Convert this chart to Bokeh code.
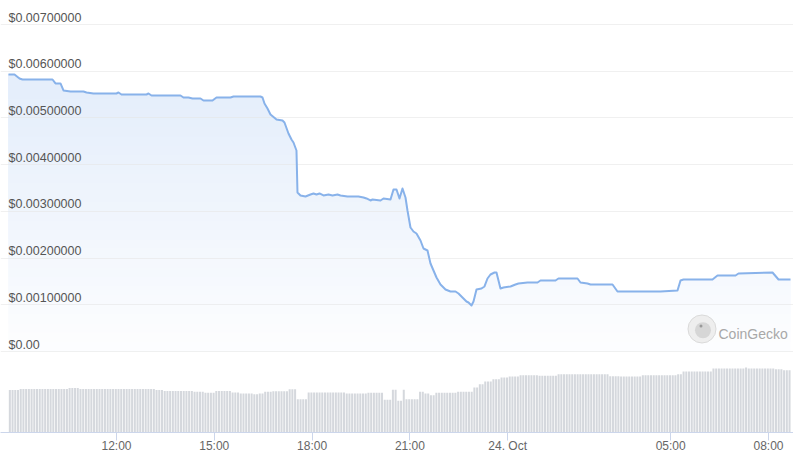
import numpy as np
from bokeh.plotting import figure
from bokeh.models import Range1d, FixedTicker, Grid
from bokeh.core.properties import value
from bokeh.embed import file_html
from bokeh.resources import INLINE

# ---------------- data ----------------
# time in hours since 23 Oct 00:00 (24 = 24 Oct 00:00)
price_hours = [8.687, 8.871, 9.025, 9.117, 10.037, 10.129, 10.282, 10.374, 10.589, 10.988,
               11.080, 11.294, 12.000, 12.061, 12.153, 12.920, 12.982, 13.074, 13.963, 14.055,
               14.209, 14.331, 14.577, 14.669, 14.945, 15.067, 15.497, 15.589, 16.417, 16.479,
               16.540, 16.632, 16.724, 16.908, 17.092, 17.153, 17.276, 17.368, 17.429, 17.521,
               17.552, 17.644, 17.798, 17.951, 18.043, 18.135, 18.227, 18.350, 18.503, 18.626,
               18.779, 18.871, 19.086, 19.423, 19.577, 19.669, 19.791, 19.853, 20.098, 20.190,
               20.405, 20.497, 20.589, 20.681, 20.773, 20.865, 20.926, 21.018, 21.110, 21.202,
               21.325, 21.417, 21.540, 21.632, 21.724, 21.816, 21.939, 22.092, 22.245, 22.399,
               22.491, 22.613, 22.736, 22.798, 22.890, 22.951, 23.043, 23.196, 23.288, 23.380,
               23.472, 23.595, 23.656, 23.779, 23.871, 24.086, 24.239, 24.331, 24.607, 24.914,
               25.006, 25.466, 25.558, 26.141, 26.233, 26.448, 26.540, 27.215, 27.368, 28.074,
               28.687, 29.209, 29.301, 29.393, 30.282, 30.436, 30.988, 31.080, 32.123, 32.307,
               32.675]
price_usd = [0.005930, 0.005930, 0.005845, 0.005823, 0.005823, 0.005738, 0.005738, 0.005588, 0.005566, 0.005566,
             0.005545, 0.005523, 0.005523, 0.005545, 0.005502, 0.005502, 0.005523, 0.005481, 0.005481, 0.005438,
             0.005438, 0.005416, 0.005416, 0.005374, 0.005374, 0.005438, 0.005438, 0.005459, 0.005459, 0.005438,
             0.005309, 0.005202, 0.005074, 0.004967, 0.004945, 0.004903, 0.004667, 0.004539, 0.004474, 0.004303,
             0.003404, 0.003340, 0.003318, 0.003361, 0.003383, 0.003361, 0.003383, 0.003340, 0.003361, 0.003340,
             0.003361, 0.003340, 0.003318, 0.003318, 0.003297, 0.003276, 0.003233, 0.003254, 0.003233, 0.003276,
             0.003254, 0.003468, 0.003468, 0.003276, 0.003490, 0.003297, 0.003019, 0.002655, 0.002569, 0.002526,
             0.002376, 0.002205, 0.002162, 0.001884, 0.001734, 0.001584, 0.001434, 0.001327, 0.001285, 0.001285,
             0.001242, 0.001156, 0.001070, 0.001049, 0.000985, 0.001070, 0.001327, 0.001349, 0.001392, 0.001563,
             0.001648, 0.001691, 0.001691, 0.001349, 0.001370, 0.001392, 0.001434, 0.001456, 0.001477, 0.001477,
             0.001520, 0.001520, 0.001563, 0.001563, 0.001477, 0.001456, 0.001434, 0.001434, 0.001285, 0.001285,
             0.001285, 0.001306, 0.001520, 0.001541, 0.001541, 0.001627, 0.001627, 0.001670, 0.001691, 0.001541,
             0.001541]

# 5-minute volume bars (relative units), starting 23 Oct 08:41
volume_start_hour = 8.687
volume = [
    42.4, 42.4, 42.4, 42.4,
    43.4, 43.4, 43.4, 43.4, 43.4, 43.4, 43.4, 43.4, 43.4, 43.4, 43.4, 43.4, 43.4, 43.4, 43.4, 43.4, 43.4, 43.4,
    44.4, 44.4, 44.4, 44.4,
    43.4, 43.4, 43.4, 43.4, 43.4, 43.4, 43.4, 43.4, 43.4, 43.4, 43.4, 43.4, 43.4, 43.4,
    43.4, 43.4, 43.4, 43.4, 43.4, 43.4, 43.4, 43.4, 43.4, 43.4, 43.4, 43.4, 43.4, 43.4,
    42.4, 42.4, 42.4,
    41.4, 41.4, 41.4, 41.4, 41.4, 41.4, 41.4, 41.4, 41.4, 41.4, 41.4,
    40.7, 40.7, 40.7, 40.7,
    39.7, 39.7, 39.7, 39.7,
    41.4, 41.4, 41.4, 41.4, 41.4, 41.4,
    40.0, 40.0, 40.0,
    39.0, 39.0, 39.0, 39.0, 39.0,
    38.3, 38.3,
    39.0, 39.0,
    40.7, 40.7, 40.7,
    41.3, 41.3, 41.3, 41.3, 41.3, 41.3,
    43.3, 43.3, 43.3,
    33.3, 33.3, 33.3, 33.3,
    40.0, 40.0, 40.0, 40.0, 40.0, 40.0, 40.0, 40.0, 40.0, 40.0, 40.0, 40.0, 40.0, 40.0,
    39.0, 39.0, 39.0, 39.0, 39.0, 39.0, 39.0, 39.0,
    39.7, 39.7, 39.7, 39.7, 39.7, 39.7,
    32.7, 32.7, 32.7,
    42.7, 42.7,
    31.7, 31.7,
    42.7,
    33.3, 33.3, 33.3, 33.3, 33.3,
    40.7, 40.7,
    39.0, 39.0,
    37.3, 37.3,
    39.7, 39.7, 39.7, 39.7, 39.7, 39.7, 39.7, 39.7,
    40.7, 40.7, 40.7, 40.7, 40.7, 40.7,
    45.0, 45.0,
    48.3, 48.3,
    51.0, 51.0, 51.0,
    53.3, 53.3, 53.3,
    55.0, 55.0, 55.0,
    56.0, 56.0, 56.0, 56.0,
    57.3, 57.3, 57.3, 57.3, 57.3, 57.3, 57.3,
    56.7, 56.7, 56.7, 56.7, 56.7, 56.7, 56.7,
    58.3, 58.3, 58.3, 58.3, 58.3, 58.3, 58.3, 58.3, 58.3, 58.3,
    58.3, 58.3, 58.3, 58.3, 58.3, 58.3, 58.3, 58.3, 58.3,
    56.3, 56.3, 56.3, 56.3,
    56.0, 56.0, 56.0, 56.0, 56.0, 56.0, 56.0, 56.0,
    57.3, 57.3, 57.3, 57.3, 57.3, 57.3, 57.3, 57.3, 57.3, 57.3, 57.3, 57.3, 57.3,
    58.3, 58.3,
    61.0, 61.0, 61.0, 61.0, 61.0, 61.0, 61.0, 61.0, 61.0, 61.0, 61.0,
    64.0, 64.0, 64.0, 64.0, 64.0, 64.0, 64.0, 64.0, 64.0, 64.0, 64.0, 64.0,
    65.0,
    64.0, 64.0, 64.0, 64.0, 64.0, 64.0, 64.0, 64.0, 64.0, 64.0,
    63.3, 63.3, 63.3,
    62.3, 62.3, 62.3,
]

x_tick_hours = [12, 15, 18, 21, 24, 29, 32]
x_tick_labels = ["12:00", "15:00", "18:00", "21:00", "24. Oct", "05:00", "08:00"]

price_ticks = [0.0, 0.001, 0.002, 0.003, 0.004, 0.005, 0.006, 0.007]
price_labels = ["$0.00", "$0.00100000", "$0.00200000", "$0.00300000",
                "$0.00400000", "$0.00500000", "$0.00600000", "$0.00700000"]

# ---------------- styling ----------------
LINE = "#88b2ea"
FILL_RGB = (124, 170, 234)
FONT = "Liberation Sans"
X0, X1 = 8.442, 32.767
LABEL_X = 8.687

p = figure(width=793, height=455, output_backend="svg", toolbar_location=None,
           x_range=Range1d(X0, X1), y_range=Range1d(-0.001734, 0.007514),
           y_axis_location=None, min_border=0, min_border_left=0, min_border_right=0,
           min_border_top=0, min_border_bottom=0)
p.outline_line_color = None
p.background_fill_color = "white"
p.border_fill_color = "white"
p.xgrid.visible = False
p.ygrid.visible = False

p.extra_y_ranges = {"vol": Range1d(0, 432)}

# volume bars
vol_x = [volume_start_hour + (i + 0.5) / 12 for i in range(len(volume))]
p.vbar(x=vol_x, top=volume, bottom=0, width=0.062, y_range_name="vol",
       fill_color="#d5d8dd", line_color=None)

# vertical gradient fill under the price line: opaque layers, each drawn from
# its level up to the line, later (higher) layers covering earlier ones
pr = np.array(price_usd)
levels = np.arange(0.0, 0.006, 0.0002)
for a in levels:
    alpha = 0.02 + 0.18 * min(a / 0.0054, 1.0)
    col = "#%02x%02x%02x" % tuple(int(round(255 - alpha * (255 - c))) for c in FILL_RGB)
    p.varea(x=price_hours, y1=np.minimum(pr, a), y2=pr, fill_color=col,
            fill_alpha=1.0, level="underlay")

grid = Grid(dimension=1, ticker=FixedTicker(ticks=price_ticks),
            grid_line_color="#e6e6e6", grid_line_alpha=0.6, grid_line_width=1,
            level="underlay")
p.add_layout(grid)

p.line(price_hours, price_usd, line_color=LINE, line_width=2, line_join="round")

# y labels inside plot
p.text(x=[LABEL_X] * len(price_ticks), y=price_ticks, text=price_labels,
       text_font=value(FONT), text_font_size="12.5px", text_color="#555555",
       text_align="left", text_baseline="bottom")

# watermark
p.scatter(x=[29.96], y=[0.000482], size=28, marker="circle",
          fill_color="#eeeeee", line_color="#dadada", line_width=1)
p.scatter(x=[29.99], y=[0.000455], size=16, marker="circle",
          fill_color="#d6d6d6", line_color=None)
p.scatter(x=[29.93], y=[0.000545], size=3, marker="circle",
          fill_color="#9a9a9a", line_color=None)
p.text(x=[30.466], y=[0.000375], text=["CoinGecko"], text_font=value(FONT),
       text_font_size="14px", text_color="#a8a8a8", text_align="left",
       text_baseline="alphabetic")

# x axis
ax = p.xaxis[0]
ax.ticker = FixedTicker(ticks=x_tick_hours)
ax.major_label_overrides = {h: lab for h, lab in zip(x_tick_hours, x_tick_labels)}
ax.axis_line_color = "#ccd6eb"
ax.major_tick_line_color = "#ccd6eb"
ax.major_tick_in = 0
ax.major_tick_out = 8
ax.minor_tick_line_color = None
ax.major_label_standoff = -2
ax.major_label_text_font = FONT
ax.major_label_text_font_size = "12px"
ax.major_label_text_color = "#666666"

open("out.html", "w").write(file_html(p, INLINE))
